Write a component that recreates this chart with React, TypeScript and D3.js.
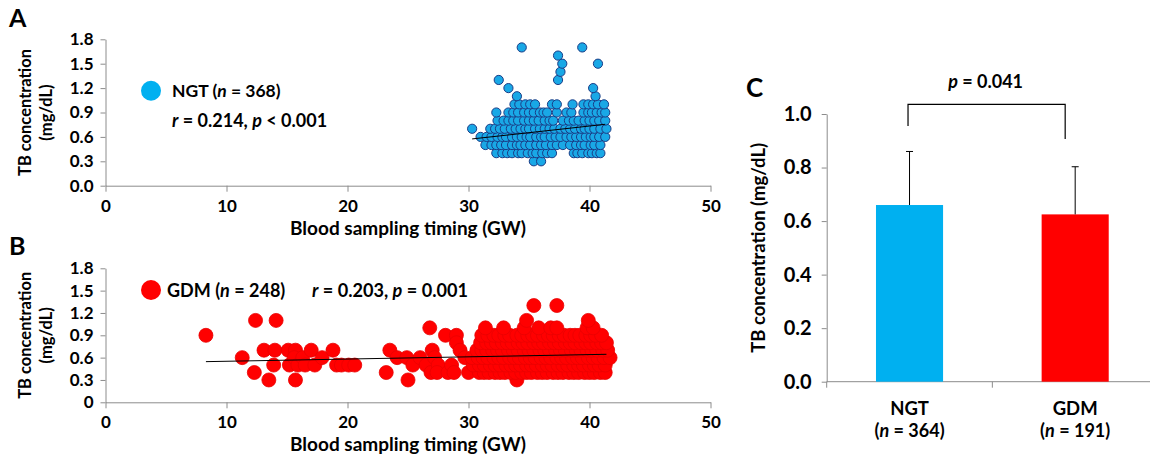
import { useEffect, useRef } from 'react';
import * as d3 from 'd3';

// ---- data ----
const gwTicks = [0, 10, 20, 30, 40, 50];
const tbTicks = [0, 0.3, 0.6, 0.9, 1.2, 1.5, 1.8];

// NGT scatter, grouped by TB value (mg/dL) -> gestational weeks
const ngtRows = [
  { tb: 0.3, gw: [35.4, 36.0] },
  { tb: 0.4, gw: [32.3, 32.8, 33.2, 33.6, 34.1, 34.4, 34.9, 35.3, 35.6, 36.1, 36.5, 36.9, 38.7, 39.0, 39.4, 39.9, 40.2, 40.6, 40.9] },
  { tb: 0.5, gw: [31.4, 31.9, 32.3, 32.7, 33.1, 33.6, 34.0, 34.3, 34.7, 35.1, 35.6, 36.0, 36.4, 36.9, 37.3, 37.8, 38.4, 38.9, 39.3, 39.6, 40.1, 40.4, 40.9] },
  { tb: 0.6, gw: [31.0, 31.5, 31.9, 32.4, 32.8, 33.1, 33.6, 34.0, 34.4, 34.8, 35.1, 35.6, 36.0, 36.3, 36.8, 37.2, 37.6, 38.1, 38.5, 38.9, 39.3, 39.7, 40.1, 40.4, 40.8, 41.3] },
  { tb: 0.7, gw: [30.3, 31.8, 32.2, 32.6, 33.0, 33.5, 33.9, 34.3, 34.7, 35.0, 35.5, 35.9, 36.3, 36.7, 37.1, 37.6, 38.0, 38.4, 38.8, 39.3, 39.6, 40.0, 40.4, 40.9, 41.4] },
  { tb: 0.8, gw: [32.4, 32.9, 33.3, 33.7, 34.1, 34.6, 35.0, 35.4, 35.8, 36.3, 36.7, 37.0, 37.8, 38.3, 38.7, 39.1, 39.6, 40.0, 40.4, 40.8, 41.3] },
  { tb: 0.9, gw: [32.3, 33.3, 33.7, 34.1, 34.6, 35.0, 35.4, 35.9, 36.2, 36.5, 37.3, 38.1, 38.5, 39.5, 39.9, 40.2, 40.6, 41.0, 41.3] },
  { tb: 1.0, gw: [33.8, 34.2, 34.7, 35.1, 35.5, 36.9, 37.3, 38.6, 39.5, 39.9, 40.3, 40.7, 41.2] },
  { tb: 1.1, gw: [34.0, 40.5] },
  { tb: 1.2, gw: [33.3, 40.3] },
  { tb: 1.3, gw: [32.5, 37.4] },
  { tb: 1.4, gw: [37.6] },
  { tb: 1.5, gw: [37.75, 40.7] },
  { tb: 1.6, gw: [37.4] },
  { tb: 1.7, gw: [34.4, 39.4] },
];

// GDM scatter: early, sparse samples as [gw, tb]
const gdmEarly = [
  [8.3, 0.9], [11.3, 0.6], [12.4, 1.1], [14.1, 1.1], [12.3, 0.4], [13.1, 0.7], [14.0, 0.7], [13.5, 0.3],
  [13.9, 0.5], [15.1, 0.7], [15.7, 0.7], [15.2, 0.5], [15.6, 0.6], [15.7, 0.3], [15.9, 0.5], [16.3, 0.6],
  [16.5, 0.5], [17.0, 0.7], [17.3, 0.5], [17.9, 0.6], [18.8, 0.7], [19.1, 0.5], [19.5, 0.5], [20.1, 0.5],
  [20.6, 0.5], [23.2, 0.4], [23.5, 0.7], [24.1, 0.6], [24.9, 0.6], [25.0, 0.3], [25.4, 0.5], [26.0, 0.6],
  [26.5, 0.5], [26.8, 1.0], [27.0, 0.7], [26.9, 0.4], [27.2, 0.6], [27.5, 0.5], [27.4, 0.4], [28.1, 0.9],
  [28.3, 0.4], [28.6, 0.5], [28.8, 0.4], [29.0, 0.9], [29.0, 0.8], [29.3, 0.7], [29.7, 0.6], [30.0, 0.4],
];

// GDM scatter: late pregnancy, grouped by TB value
const gdmRows = [
  { tb: 0.3, gw: [34.0] },
  { tb: 0.4, gw: [30.9, 31.3, 31.7, 32.2, 32.6, 33.0, 33.5, 33.9, 34.4, 34.8, 35.2, 35.7, 36.1, 36.5, 37.0, 37.4, 37.8, 38.3, 38.7, 39.1, 39.6, 40.0, 40.4, 40.9, 41.3] },
  { tb: 0.5, gw: [30.4, 30.9, 31.3, 31.8, 32.2, 32.6, 33.1, 33.5, 33.9, 34.3, 34.8, 35.2, 35.6, 36.1, 36.5, 36.9, 37.4, 37.8, 38.2, 38.7, 39.1, 39.5, 40.0, 40.4, 40.8, 41.3] },
  { tb: 0.6, gw: [30.3, 30.8, 31.2, 31.6, 32.1, 32.5, 32.9, 33.4, 33.8, 34.2, 34.7, 35.1, 35.5, 36.0, 36.4, 36.8, 37.3, 37.7, 38.1, 38.6, 39.0, 39.4, 39.9, 40.3, 40.7, 41.2, 41.7] },
  { tb: 0.7, gw: [30.7, 31.1, 31.5, 32.0, 32.4, 32.8, 33.3, 33.7, 34.1, 34.6, 35.0, 35.4, 35.9, 36.3, 36.7, 37.2, 37.6, 38.0, 38.5, 38.9, 39.3, 39.8, 40.2, 40.6, 41.1, 41.5] },
  { tb: 0.8, gw: [31.0, 31.5, 31.9, 32.3, 32.8, 33.2, 33.6, 34.1, 34.5, 34.9, 35.4, 35.8, 36.2, 36.7, 37.1, 37.5, 38.0, 38.4, 38.8, 39.3, 39.7, 40.1, 40.6, 41.0, 41.4] },
  { tb: 0.9, gw: [31.1, 31.6, 32.1, 32.5, 33.0, 33.4, 34.0, 34.4, 34.9, 35.3, 35.7, 36.2, 36.6, 37.0, 37.5, 37.9, 38.4, 38.8, 39.2, 39.7, 40.1, 40.5, 41.0] },
  { tb: 1.0, gw: [31.4, 32.9, 34.6, 35.8, 36.8, 37.3, 39.8, 40.3] },
  { tb: 1.1, gw: [34.8, 39.9] },
  { tb: 1.3, gw: [35.4, 37.3] },
];

// fitted regression lines, [gw, tb] end points
const ngtFit = [[30.3, 0.575], [41.3, 0.755]];
const gdmFit = [[8.3, 0.546], [41.4, 0.645]];

// panel C
const groups = ['NGT', 'GDM'];
const groupN = [364, 191];
const groupMean = [0.66, 0.625];
const groupSd = [0.2, 0.178];
const barTicks = [0, 0.2, 0.4, 0.6, 0.8, 1.0];
const bracketLevels = [1.036, 0.955, 0.907];

const FONT = "Lato, 'Open Sans', sans-serif";
const AXIS = '#8c8c8c';

const rowsToPoints = (rows) => rows.flatMap(r => r.gw.map(g => [g, r.tb]));

// text made of runs, italic where flagged
const richText = (g, x, y, parts, size, anchor = 'start') => {
  const t = g.append('text')
    .attr('x', x).attr('y', y)
    .attr('text-anchor', anchor)
    .style('font-family', FONT)
    .style('font-weight', 'bold')
    .style('font-size', `${size}px`)
    .attr('fill', '#000');
  parts.forEach(([s, it]) => {
    t.append('tspan').style('font-style', it ? 'italic' : 'normal').text(s);
  });
  return t;
};

const drawScatter = (svg, cfg) => {
  const x = d3.scaleLinear().domain([0, 50]).range([105.5, 710.5]);
  const y = d3.scaleLinear().domain([0, 1.8]).range([cfg.bottom, cfg.top]);

  const g = svg.append('g');

  const yAxis = g.append('g')
    .attr('transform', `translate(${x(0)},0)`)
    .call(d3.axisLeft(y).tickValues(tbTicks).tickSize(5).tickSizeOuter(0).tickPadding(7)
      .tickFormat(cfg.yFmt));
  const xAxis = g.append('g')
    .attr('transform', `translate(0,${y(0)})`)
    .call(d3.axisBottom(x).tickValues(gwTicks).tickSize(6).tickSizeOuter(0).tickPadding(8)
      .tickFormat(d3.format('d')));

  [yAxis, xAxis].forEach(a => {
    a.select('.domain').attr('stroke', AXIS);
    a.selectAll('.tick line').attr('stroke', AXIS);
    a.selectAll('.tick text')
      .style('font-family', FONT).style('font-weight', 'bold').style('font-size', '17px')
      .attr('fill', '#000');
  });

  g.selectAll('circle.pt')
    .data(cfg.points)
    .enter()
    .append('circle')
    .attr('class', 'pt')
    .attr('cx', d => x(d[0]))
    .attr('cy', d => y(d[1]))
    .attr('r', cfg.r)
    .attr('fill', cfg.fill)
    .attr('stroke', cfg.stroke)
    .attr('stroke-width', cfg.strokeWidth);

  g.append('path')
    .datum(cfg.fit)
    .attr('d', d3.line().x(d => x(d[0])).y(d => y(d[1])))
    .attr('fill', 'none')
    .attr('stroke', '#000')
    .attr('stroke-width', 1);

  // axis titles
  const midY = (cfg.top + cfg.bottom) / 2;
  const yl = g.append('text')
    .attr('transform', `translate(31,${midY}) rotate(-90)`)
    .attr('text-anchor', 'middle')
    .style('font-family', FONT).style('font-weight', 'bold').style('font-size', '16.5px');
  yl.append('tspan').attr('x', 0).attr('dy', 0).text('TB concentration');
  yl.append('tspan').attr('x', 0).attr('dy', 20.5).text('(mg/dL)');

  g.append('text')
    .attr('x', 408).attr('y', y(0) + 49)
    .attr('text-anchor', 'middle')
    .style('font-family', FONT).style('font-weight', 'bold').style('font-size', '19px')
    .text('Blood sampling timing (GW)');

  g.append('text')
    .attr('x', 9).attr('y', cfg.letterY)
    .style('font-family', FONT).style('font-weight', 'bold').style('font-size', '25px')
    .text(cfg.letter);

  return g;
};

const App = () => {
  const svgRef = useRef(null);

  useEffect(() => {
    const svg = d3.select(svgRef.current);
    svg.selectAll('*').remove();

    // ---- A ----
    const a = drawScatter(svg, {
      top: 39.3, bottom: 185.7, letter: 'A', letterY: 27,
      yFmt: d3.format('.1f'),
      points: rowsToPoints(ngtRows), fit: ngtFit,
      r: 4.6, fill: '#19A8E6', stroke: '#1A3C86', strokeWidth: 1,
    });
    a.append('circle').attr('cx', 151).attr('cy', 90.7).attr('r', 10).attr('fill', '#00B0F0');
    richText(a, 172, 97, [['NGT ('], ['n', true], [' = 368)']], 17.5);
    richText(a, 172, 127, [['r', true], [' = 0.214, '], ['p', true], [' < 0.001']], 18);

    // ---- B ----
    const b = drawScatter(svg, {
      top: 268.3, bottom: 402.3, letter: 'B', letterY: 255,
      yFmt: d => (d === 0 ? '0' : d3.format('.1f')(d)),
      points: gdmEarly.concat(rowsToPoints(gdmRows)), fit: gdmFit,
      r: 7, fill: '#FF0000', stroke: '#E80000', strokeWidth: 0.8,
    });
    b.append('circle').attr('cx', 151).attr('cy', 290).attr('r', 10).attr('fill', '#FF0000');
    richText(b, 167, 296.5, [['GDM ('], ['n', true], [' = 248)']], 18);
    richText(b, 312, 296.5, [['r', true], [' = 0.203, '], ['p', true], [' = 0.001']], 18.1);

    // ---- C ----
    const c = svg.append('g');
    const xc = d3.scaleBand().domain(groups).range([826.7, 1158]);
    const yc = d3.scaleLinear().domain([0, 1]).range([381.7, 114]);
    const bw = xc.bandwidth() * 0.405;
    const colors = ['#00B0F0', '#FF0000'];

    const ycAxis = c.append('g')
      .attr('transform', `translate(${xc.range()[0]},0)`)
      .call(d3.axisLeft(yc).tickValues(barTicks).tickSize(5).tickSizeOuter(0).tickPadding(10)
        .tickFormat(d3.format('.1f')));
    ycAxis.select('.domain').attr('stroke', AXIS);
    ycAxis.selectAll('.tick line').attr('stroke', AXIS);
    ycAxis.selectAll('.tick text')
      .style('font-family', FONT).style('font-weight', 'bold').style('font-size', '20px')
      .attr('fill', '#000');

    const baseY = yc(0);
    c.append('line')
      .attr('x1', xc.range()[0]).attr('x2', xc.range()[1])
      .attr('y1', baseY).attr('y2', baseY)
      .attr('stroke', AXIS);
    [xc.range()[0], xc.range()[0] + xc.step()].forEach(t => {
      c.append('line').attr('x1', t).attr('x2', t).attr('y1', baseY).attr('y2', baseY + 6)
        .attr('stroke', AXIS);
    });

    groups.forEach((gname, i) => {
      const cx = xc(gname) + xc.bandwidth() / 2;
      c.append('rect')
        .attr('x', cx - bw / 2).attr('width', bw)
        .attr('y', yc(groupMean[i])).attr('height', baseY - yc(groupMean[i]))
        .attr('fill', colors[i]);
      const top = yc(groupMean[i] + groupSd[i]);
      c.append('line').attr('x1', cx).attr('x2', cx)
        .attr('y1', yc(groupMean[i])).attr('y2', top).attr('stroke', '#000');
      c.append('line').attr('x1', cx - 3.5).attr('x2', cx + 3.5)
        .attr('y1', top).attr('y2', top).attr('stroke', '#000');

      c.append('text')
        .attr('x', cx).attr('y', baseY + 33)
        .attr('text-anchor', 'middle')
        .style('font-family', FONT).style('font-weight', 'bold').style('font-size', '18.5px')
        .text(gname);
      richText(c, cx, baseY + 55, [['('], ['n', true], [` = ${groupN[i]})`]], 18, 'middle');
    });

    // significance bracket
    const bx1 = xc('NGT') + xc.bandwidth() / 2 - 1.5;
    const bx2 = xc('GDM') + xc.bandwidth() / 2 - 10;
    c.append('path')
      .attr('d', `M${bx1},${yc(bracketLevels[1])}V${yc(bracketLevels[0])}H${bx2}V${yc(bracketLevels[2])}`)
      .attr('fill', 'none').attr('stroke', '#000').attr('stroke-width', 1.2);
    richText(c, (bx1 + bx2) / 2 - 1, 88, [['p', true], [' = 0.041']], 18, 'middle');

    c.append('text')
      .attr('transform', `translate(765,${(yc(0) + yc(1)) / 2}) rotate(-90)`)
      .attr('text-anchor', 'middle')
      .style('font-family', FONT).style('font-weight', 'bold').style('font-size', '18.5px')
      .text('TB concentration (mg/dL)');

    c.append('text')
      .attr('x', 746).attr('y', 97)
      .style('font-family', FONT).style('font-weight', 'bold').style('font-size', '26px')
      .text('C');
  }, []);

  return (
    <svg ref={svgRef} width={1150} height={463}
      style={{ position: 'absolute', left: 0, top: 0, background: '#fff' }} />
  );
};

export default App;
